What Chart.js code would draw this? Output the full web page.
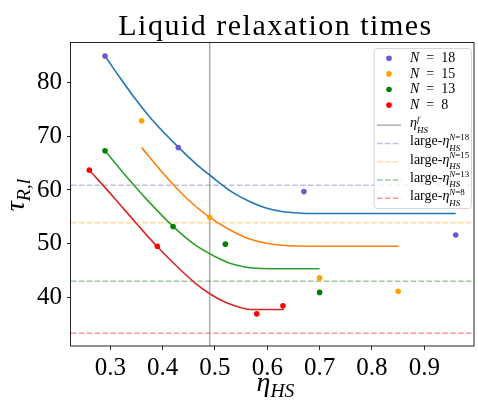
<!DOCTYPE html>
<html>
<head>
<meta charset="utf-8">
<script src="https://cdn.jsdelivr.net/npm/chart.js@4.4.1/dist/chart.umd.min.js"></script>
<style>
  html, body { margin: 0; background: #fff; }
  #wrap { width: 478px; height: 406px; }
</style>
</head>
<body>
<div id="wrap"><canvas id="relaxChart" width="478" height="406"></canvas></div>
<script>
// measured relaxation times for each system size
const sizes = ['18', '15', '13', '8'];
const etaN18 = [0.29, 0.43, 0.67, 0.96];
const tauN18 = [85.0, 67.9, 59.7, 51.6];
const etaN15 = [0.36, 0.49, 0.70, 0.85];
const tauN15 = [72.9, 54.9, 43.6, 41.1];
const etaN13 = [0.29, 0.42, 0.52, 0.70];
const tauN13 = [67.3, 53.2, 49.9, 40.9];
const etaN8 = [0.26, 0.39, 0.58, 0.63];
const tauN8 = [63.7, 49.5, 36.9, 38.4];

// fitted curves
const fitEtaN18 = [0.29, 0.316, 0.347, 0.379, 0.431, 0.467, 0.491, 0.533, 0.565, 0.596, 0.628, 0.659, 0.69, 0.96];
const fitTauN18 = [85.0, 81.3, 77.1, 73.2, 67.9, 64.6, 62.7, 59.6, 57.9, 56.7, 56.0, 55.7, 55.6, 55.6];
const fitEtaN15 = [0.36, 0.40, 0.43, 0.46, 0.49, 0.53, 0.565, 0.596, 0.628, 0.66, 0.69, 0.851];
const fitTauN15 = [67.9, 63.2, 60.0, 57.2, 54.9, 52.5, 50.9, 50.1, 49.7, 49.55, 49.5, 49.5];
const fitEtaN13 = [0.29, 0.33, 0.37, 0.42, 0.46, 0.50, 0.53, 0.56, 0.59, 0.62, 0.70];
const fitTauN13 = [67.3, 62.6, 58.2, 53.2, 49.9, 47.6, 46.3, 45.6, 45.35, 45.3, 45.3];
const fitEtaN8 = [0.261, 0.306, 0.350, 0.39, 0.432, 0.464, 0.491, 0.521, 0.552, 0.571, 0.632];
const fitTauN8 = [63.6, 58.7, 53.75, 49.4, 45.3, 42.5, 40.6, 39.0, 38.0, 37.7, 37.7];

// large-eta limits and freezing packing fraction
const largeTau = [60.9, 53.9, 43.0, 33.3];
const etaFreeze = 0.49;

const xRange = [0.225, 0.995];
const yRange = [30.9, 87.6];
const xTicks = [0.3, 0.4, 0.5, 0.6, 0.7, 0.8, 0.9];
const yTicks = [40, 50, 60, 70, 80];

const pointColors = ['#6a5acd', '#ffa500', '#008000', '#ff0000'];
const fitColors = ['#1f77b4', '#ff7f0e', '#2ca02c', '#d62728'];
const limitColors = ['rgba(106,90,205,0.4)', 'rgba(255,165,0,0.4)', 'rgba(0,128,0,0.4)', 'rgba(255,0,0,0.4)'];
const freezeColor = 'rgba(128,128,128,0.65)';
const serif = '"Liberation Serif", "DejaVu Serif", serif';

function pairs(xs, ys) {
    return xs.map((x, i) => ({ x: x, y: ys[i] }));
}

const measured = [[etaN18, tauN18], [etaN15, tauN15], [etaN13, tauN13], [etaN8, tauN8]];
const fits = [[fitEtaN18, fitTauN18], [fitEtaN15, fitTauN15], [fitEtaN13, fitTauN13], [fitEtaN8, fitTauN8]];

const datasets = [];
measured.forEach((m, i) => {
    datasets.push({
        label: 'N = ' + sizes[i],
        data: pairs(m[0], m[1]),
        backgroundColor: pointColors[i],
        borderWidth: 0,
        pointRadius: 2.8,
        order: 0
    });
});
fits.forEach((f, i) => {
    datasets.push({
        label: 'fit N = ' + sizes[i],
        data: pairs(f[0], f[1]),
        showLine: true,
        borderColor: fitColors[i],
        borderWidth: 1.6,
        pointRadius: 0,
        cubicInterpolationMode: 'monotone',
        order: 1
    });
});
largeTau.forEach((t, i) => {
    datasets.push({
        label: 'large N = ' + sizes[i],
        data: [{ x: xRange[0], y: t }, { x: xRange[1], y: t }],
        showLine: true,
        borderColor: limitColors[i],
        borderWidth: 1.5,
        borderDash: [5.5, 2.4],
        pointRadius: 0,
        order: 2
    });
});
datasets.push({
    label: 'eta_f',
    data: [{ x: etaFreeze, y: yRange[0] }, { x: etaFreeze, y: yRange[1] }],
    showLine: true,
    borderColor: freezeColor,
    borderWidth: 1.5,
    pointRadius: 0,
    order: 3
});

// text with italic runs, sub- and superscripts, drawn left to right
function mathText(ctx, items, x, y, size, dry) {
    const setFont = (s, it) => { ctx.font = (it ? 'italic ' : '') + s + 'px ' + serif; };
    const runs = (list, x0, y0, s) => {
        let cx = x0;
        list.forEach(r => {
            setFont(s, r.it);
            if (!dry) ctx.fillText(r.t, cx, y0);
            cx += ctx.measureText(r.t).width;
        });
        return cx - x0;
    };
    let cx = x;
    items.forEach(item => {
        if (item.runs) cx += runs(item.runs, cx, y, size);
        if (item.sup || item.sub) {
            const both = item.sup && item.sub;
            const s = size * (both ? 0.64 : 0.7);
            const w1 = item.sup ? runs(item.sup, cx, y - size * 0.36, s) : 0;
            const w2 = item.sub ? runs(item.sub, cx, y + size * (both ? 0.4 : 0.22), s) : 0;
            cx += Math.max(w1, w2);
        }
    });
    return cx - x;
}

const eta = { t: '\u03b7', it: true };
const legendRows = [];
sizes.forEach((n, i) => legendRows.push({ kind: 'dot', gap: 15.6, color: pointColors[i], items: [{ runs: [{ t: 'N', it: true }, { t: '\u2002=\u2002' + n }] }] }));
legendRows.push({ kind: 'line', gap: 20, color: freezeColor, items: [{ runs: [eta] }, { sup: [{ t: 'f', it: true }], sub: [{ t: 'HS', it: true }] }] });
sizes.forEach((n, i) => legendRows.push({ kind: 'dash', gap: 18.3, color: limitColors[i], items: [{ runs: [{ t: 'large-' }, eta] }, { sup: [{ t: 'N', it: true }, { t: '=' + n }], sub: [{ t: 'HS', it: true }] }] }));

const decor = {
    id: 'decor',
    afterDraw(chart) {
        const ctx = chart.ctx;
        const a = chart.chartArea;
        ctx.save();

        // axes frame
        ctx.strokeStyle = '#222';
        ctx.lineWidth = 1;
        ctx.strokeRect(Math.round(a.left) - 0.5, Math.round(a.top) + 0.5, Math.round(a.right - a.left) + 0.5, Math.round(a.bottom - a.top) - 0.5);

        ctx.fillStyle = '#000';
        ctx.textBaseline = 'alphabetic';

        // title
        ctx.font = '30px ' + serif;
        ctx.letterSpacing = '1.5px';
        ctx.textAlign = 'center';
        ctx.fillText('Liquid relaxation times', (a.left + a.right) / 2 + 3, 35);
        ctx.letterSpacing = '0px';
        ctx.textAlign = 'left';

        // x axis title
        const xLabel = [{ runs: [eta] }, { sub: [{ t: 'HS', it: true }] }];
        const wx = mathText(ctx, xLabel, 0, 0, 28, true);
        mathText(ctx, xLabel, (a.left + a.right) / 2 - wx / 2 + 3, 391, 28);

        // y axis title
        const yLabel = [{ runs: [{ t: '\u03c4', it: true }] }, { sub: [{ t: 'R,l', it: true }] }];
        const wy = mathText(ctx, yLabel, 0, 0, 28, true);
        ctx.save();
        ctx.translate(24, 195);
        ctx.rotate(-Math.PI / 2);
        mathText(ctx, yLabel, -wy / 2, 0, 28);
        ctx.restore();

        // legend
        const bx = 374, by = 48.5, bw = 97.5, bh = 160;
        ctx.beginPath();
        ctx.roundRect(bx, by, bw, bh, 3);
        ctx.fillStyle = 'rgba(255,255,255,0.8)';
        ctx.fill();
        ctx.strokeStyle = '#d6d6d6';
        ctx.lineWidth = 1;
        ctx.stroke();

        let cy = 58.3 - legendRows[0].gap;
        legendRows.forEach(row => {
            cy += row.gap;
            if (row.kind === 'dot') {
                ctx.beginPath();
                ctx.arc(389, cy, 2.8, 0, Math.PI * 2);
                ctx.fillStyle = row.color;
                ctx.fill();
            } else {
                ctx.beginPath();
                ctx.moveTo(377, cy);
                ctx.lineTo(401, cy);
                ctx.strokeStyle = row.color;
                ctx.lineWidth = 1.5;
                ctx.setLineDash(row.kind === 'dash' ? [5.5, 2.4] : []);
                ctx.stroke();
                ctx.setLineDash([]);
            }
            ctx.fillStyle = '#000';
            mathText(ctx, row.items, 410, cy + (row.kind === 'dot' ? 3.6 : 1.8), 14);
        });
        ctx.restore();
    }
};

new Chart(document.getElementById('relaxChart'), {
    type: 'scatter',
    data: { datasets: datasets },
    options: {
        responsive: false,
        animation: false,
        layout: { padding: { top: 42, right: 4, left: 0, bottom: 0 } },
        plugins: { legend: { display: false }, tooltip: { enabled: false } },
        scales: {
            x: {
                type: 'linear',
                min: xRange[0],
                max: xRange[1],
                afterFit: s => { s.height = 60; },
                afterBuildTicks: s => { s.ticks = xTicks.map(v => ({ value: v })); },
                border: { display: false },
                grid: { drawOnChartArea: false, drawTicks: true, tickLength: 4, color: '#222' },
                ticks: {
                    color: '#000',
                    padding: 3,
                    maxRotation: 0,
                    font: { family: serif, size: 25 },
                    callback: v => v.toFixed(1)
                }
            },
            y: {
                type: 'linear',
                min: yRange[0],
                max: yRange[1],
                afterFit: s => { s.width = 71; },
                afterBuildTicks: s => { s.ticks = yTicks.map(v => ({ value: v })); },
                border: { display: false },
                grid: { drawOnChartArea: false, drawTicks: true, tickLength: 4, color: '#222' },
                ticks: {
                    color: '#000',
                    padding: 5,
                    font: { family: serif, size: 25 },
                    callback: v => String(v)
                }
            }
        }
    },
    plugins: [decor]
});
</script>
</body>
</html>
